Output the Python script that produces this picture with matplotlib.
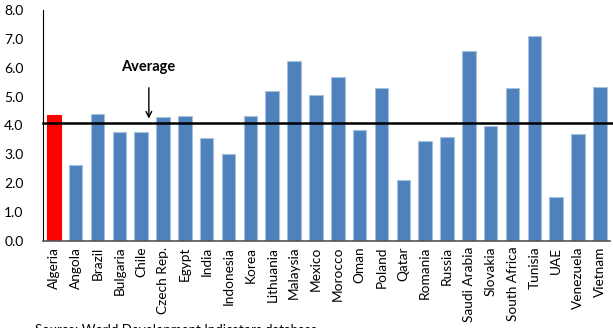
import matplotlib
matplotlib.use('Agg')
import matplotlib.pyplot as plt
import numpy as np

# Países e valores do indicador
paises = ['Algeria', 'Angola', 'Brazil', 'Bulgaria', 'Chile', 'Czech Rep.', 'Egypt',
          'India', 'Indonesia', 'Korea', 'Lithuania', 'Malaysia', 'Mexico', 'Morocco',
          'Oman', 'Poland', 'Qatar', 'Romania', 'Russia', 'Saudi Arabia', 'Slovakia',
          'South Africa', 'Tunisia', 'UAE', 'Venezuela', 'Vietnam']
valores = [4.36, 2.63, 4.39, 3.76, 3.76, 4.29, 4.33, 3.57, 3.01, 4.33, 5.20, 6.22,
           5.04, 5.67, 3.83, 5.30, 2.13, 3.45, 3.61, 6.58, 3.98, 5.30, 7.08, 1.52,
           3.69, 5.34]
media = 4.09
destaque = 'Algeria'

plt.rcParams['font.family'] = ['Lato', 'DejaVu Sans']

fig = plt.figure(figsize=(6.13, 3.28), dpi=100)
ax = fig.add_axes([0.070, 0.265, 0.925, 0.705])

x = np.arange(len(paises))
cores = ['#FF0000' if p == destaque else '#4F81BD' for p in paises]
bordas = ['#FF0000' if p == destaque else '#A7C0DE' for p in paises]
ax.bar(x, valores, 0.62, color=cores, edgecolor=bordas, linewidth=0.8)

# Linha da média
ax.axhline(media, color='black', linewidth=1.8, xmin=0, xmax=1.01, clip_on=False)
ax.annotate('', xy=(4.35, media + 0.05), xytext=(4.35, 5.4),
            arrowprops=dict(arrowstyle='->', color='black', lw=1.0))
ax.text(4.3, 6.03, 'Average', ha='center', va='center', fontsize=10.5, fontweight='bold')

ax.set_xlim(-0.5, len(paises) - 0.54)
ax.set_ylim(0, 8)
ax.set_yticks(np.arange(0, 8.1, 1.0))
ax.set_yticklabels(['%.1f' % v for v in np.arange(0, 8.1, 1.0)], fontsize=10)
ax.set_xticks(x)
ax.set_xticklabels(paises, rotation=90, fontsize=9.8)
ax.tick_params(axis='both', length=0, pad=4)
ax.tick_params(axis='y', pad=14)

for s in ['top', 'right']:
    ax.spines[s].set_visible(False)
ax.spines['left'].set_color('black')
ax.spines['bottom'].set_color('#555555')
ax.spines['bottom'].set_linewidth(1.2)

fig.text(0.057, 0.012, 'Source: World Development Indicators database', fontsize=9.5,
         va='top', ha='left')

fig.savefig('out.png', dpi=100)
